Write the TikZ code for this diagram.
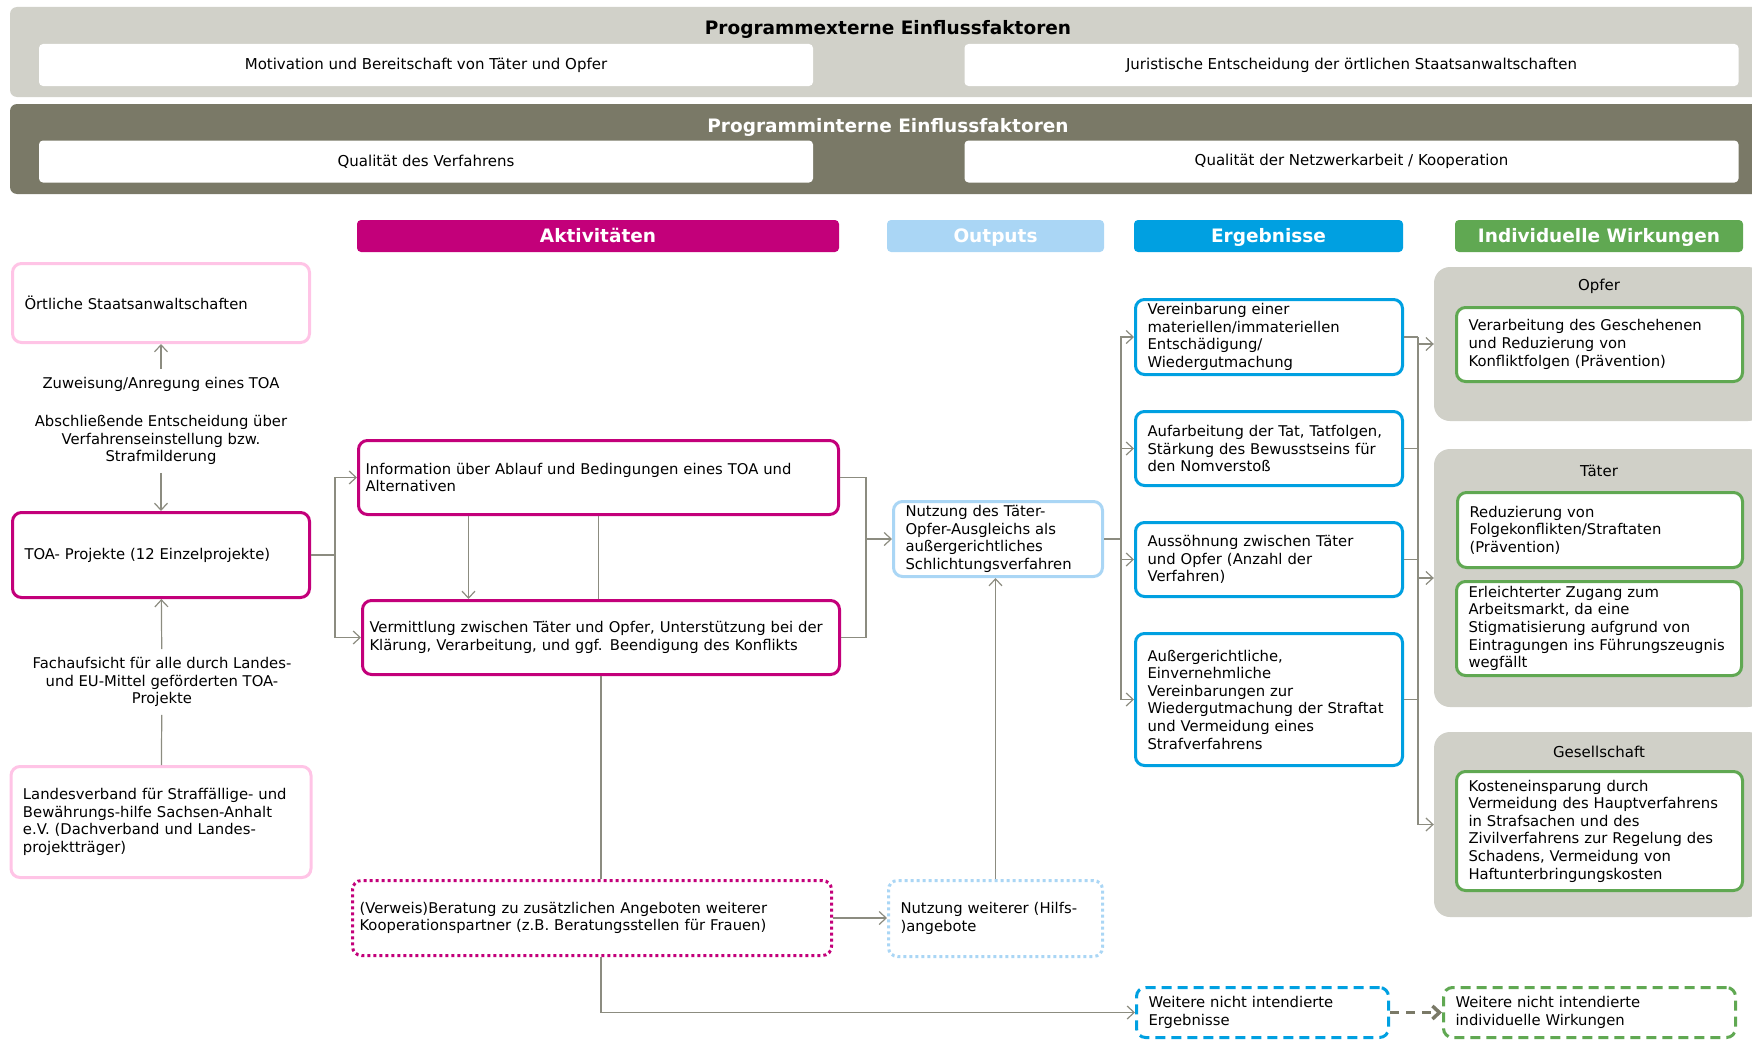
\documentclass[tikz,border=0pt]{standalone}
\usepackage{fontspec}
\setmainfont{DejaVu Sans}
\usetikzlibrary{arrows.meta}

\definecolor{bandlight}{RGB}{209,209,201}
\definecolor{banddark}{RGB}{122,121,103}
\definecolor{groupgray}{RGB}{208,208,200}
\definecolor{pinkline}{RGB}{255,196,230}
\definecolor{actmagenta}{RGB}{195,0,122}
\definecolor{outblue}{RGB}{170,214,245}
\definecolor{resblue}{RGB}{0,160,225}
\definecolor{effgreen}{RGB}{96,168,82}
\definecolor{conngray}{RGB}{140,140,128}
\definecolor{dashgray}{RGB}{122,121,103}

\begin{document}
\begin{tikzpicture}[x=1pt, y=-1pt,
	>={Straight Barb[length=7pt,width=13pt]},
	every node/.style={font=\fontsize{14.8}{17.6}\selectfont,
	                   inner sep=0pt
	                   },
	band/.style={rounded corners=7pt, minimum width=1756pt, minimum height=90pt},
	bandtitle/.style={font=\fontsize{18.5}{22}\selectfont\bfseries,
	                  text height=13.5pt, text depth=1pt},
	factor/.style={fill=white, rounded corners=4pt,
	               minimum width=774pt, minimum height=42pt,
	               font=\fontsize{15}{18}\selectfont},
	head/.style={rounded corners=4pt, minimum height=32pt, text=white,
	             text height=13.5pt, text depth=1pt,
	             font=\fontsize{18.5}{22}\selectfont\bfseries},
	group/.style={fill=groupgray, rounded corners=16pt, minimum width=330pt},
	grouptitle/.style={font=\fontsize{15}{18}\selectfont},
	box/.style={draw, rounded corners=9pt, line width=3pt, fill=white,
	            align=left, inner xsep=12pt, inner ysep=3pt},
	actor/.style={box, draw=pinkline},
	act/.style={box, draw=actmagenta, inner xsep=7pt},
	actdot/.style={act, dash pattern=on 3pt off 3pt},
	outp/.style={box, draw=outblue},
	outdot/.style={outp, dash pattern=on 3pt off 3pt},
	res/.style={box, draw=resblue},
	resdash/.style={res, dash pattern=on 10pt off 6pt},
	eff/.style={box, draw=effgreen},
	effdash/.style={eff, dash pattern=on 10pt off 6pt},
	lbl/.style={align=center, inner sep=8pt},
	conn/.style={draw=conngray, line width=1.2pt},
	dasharrow/.style={draw=dashgray, line width=3.5pt, dash pattern=on 9pt off 7pt, ->}
]
	\useasboundingbox (0,0) rectangle (1752,1041);

	% influence factors
	\node (extern) [band, fill=bandlight] at (888,52) {};
	\node (externtitle) [bandtitle] at (888,28) {Programmexterne Einflussfaktoren};
	\node (motivation) [factor] at (426,65) {Motivation und Bereitschaft von Täter und Opfer};
	\node (juristisch) [factor] at (1351.5,65) {Juristische Entscheidung der örtlichen Staatsanwaltschaften};
	\node (intern) [band, fill=banddark] at (888,149) {};
	\node (interntitle) [bandtitle, text=white] at (888,126) {Programminterne Einflussfaktoren};
	\node (verfahren) [factor] at (426,161.5) {Qualität des Verfahrens};
	\node (netzwerk) [factor] at (1351.5,161.5) {Qualität der Netzwerkarbeit / Kooperation};

	% column heads
	\node (hakt) [head, fill=actmagenta, minimum width=482pt] at (598,236) {Aktivitäten};
	\node (hout) [head, fill=outblue, minimum width=217pt] at (995.5,236) {Outputs};
	\node (herg) [head, fill=resblue, minimum width=269pt] at (1268.5,236) {Ergebnisse};
	\node (hwirk) [head, fill=effgreen, minimum width=288pt] at (1599,236) {Individuelle Wirkungen};

	% groups of effects
	\node (gopfer) [group, minimum height=154pt] at (1599,344) {};
	\node (gtaeter) [group, minimum height=258pt] at (1599,578) {};
	\node (gges) [group, minimum height=185pt] at (1599,824.5) {};
	\node (topfer) [grouptitle] at (1599,286) {Opfer};
	\node (ttaeter) [grouptitle] at (1599,471) {Täter};
	\node (tges) [grouptitle] at (1599,752) {Gesellschaft};

	% actors
	\node (oertl) [actor, text width=273pt, minimum height=79pt] at (161,303) {Örtliche Staatsanwaltschaften};
	\node (zuw) [lbl] at (161,384) {Zuweisung/Anregung eines TOA};
	\node (absch) [lbl] at (161,440) {Abschließende Entscheidung über\\Verfahrenseinstellung bzw.\\Strafmilderung};
	\node (toa) [act, inner xsep=12pt, text width=273pt, minimum height=85pt] at (161,555) {TOA- Projekte (12 Einzelprojekte)};
	\node (fach) [lbl] at (162,682) {Fachaufsicht für alle durch Landes-\\und EU-Mittel geförderten TOA-\\Projekte};
	\node (lv) [actor, text width=276pt, minimum height=111pt] at (161,822) {Landesverband für Straffällige- und\\Bewährungs-hilfe Sachsen-Anhalt\\e.V. (Dachverband und Landes-\\projektträger)};

	% activities
	\node (info) [act, text width=466pt, minimum height=74pt] at (598.5,477.5) {Information über Ablauf und Bedingungen eines TOA und\\Alternativen};
	\node (verm) [act, text width=463pt, minimum height=74pt] at (601,637.5) {Vermittlung zwischen Täter und Opfer, Unterstützung bei der\\Klärung, Verarbeitung, und ggf. Beendigung des Konflikts};
	\node (verweis) [actdot, text width=465pt, minimum height=75pt] at (592,918) {(Verweis)Beratung zu zusätzlichen Angeboten weiterer\\Kooperationspartner (z.B. Beratungsstellen für Frauen)};

	% outputs
	\node (nutz) [outp, text width=185pt, minimum height=75pt] at (998,539) {Nutzung des Täter-\\Opfer-Ausgleichs als\\außergerichtliches\\Schlichtungsverfahren};
	\node (nutzw) [outdot, text width=190pt, minimum height=76pt] at (995.5,918.5) {Nutzung weiterer (Hilfs-\\)angebote};

	% results
	\node (erg1) [res, text width=243pt, minimum height=75pt] at (1269,337) {Vereinbarung einer\\materiellen/immateriellen\\Entschädigung/\\Wiedergutmachung};
	\node (erg2) [res, text width=243pt, minimum height=74pt] at (1269,448.5) {Aufarbeitung der Tat, Tatfolgen,\\Stärkung des Bewusstseins für\\den Nomverstoß};
	\node (erg3) [res, text width=243pt, minimum height=74pt] at (1269,559.5) {Aussöhnung zwischen Täter\\und Opfer (Anzahl der\\Verfahren)};
	\node (erg4) [res, text width=243pt, minimum height=132pt] at (1269,699.5) {Außergerichtliche,\\Einvernehmliche\\Vereinbarungen zur\\Wiedergutmachung der Straftat\\und Vermeidung eines\\Strafverfahrens};
	\node (wergeb) [resdash, text width=228pt, minimum height=50pt] at (1262.5,1012.5) {Weitere nicht intendierte\\Ergebnisse};

	% effects
	\node (effopfer) [eff, text width=262pt, minimum height=74pt] at (1599.5,344.5) {Verarbeitung des Geschehenen\\und Reduzierung von\\Konfliktfolgen (Prävention)};
	\node (efftaeter1) [eff, text width=261pt, minimum height=75pt] at (1600,530) {Reduzierung von\\Folgekonflikten/Straftaten\\(Prävention)};
	\node (efftaeter2) [eff, text width=261pt, minimum height=94pt] at (1599,628.5) {Erleichterter Zugang zum\\Arbeitsmarkt, da eine\\Stigmatisierung aufgrund von\\Eintragungen ins Führungszeugnis\\wegfällt};
	\node (effges) [eff, text width=262pt, minimum height=119pt] at (1599.5,831) {Kosteneinsparung durch\\Vermeidung des Hauptverfahrens\\in Strafsachen und des\\Zivilverfahrens zur Regelung des\\Schadens, Vermeidung von\\Haftunterbringungskosten};
	\node (wwirk) [effdash, text width=268pt, minimum height=50pt] at (1589.5,1012.5) {Weitere nicht intendierte\\individuelle Wirkungen};

	% connectors, left column
	\draw[conn,->] (zuw) -- (oertl);
	\draw[conn,->] (absch) -- (toa);
	\draw[conn] (lv) -- (fach);
	\draw[conn,->] (fach) -- (toa);

	% connectors, activities
	\coordinate (fork1) at (335,555);
	\draw[conn] (toa) -- (fork1);
	\draw[conn,->] (fork1) |- (info);
	\draw[conn,->] (fork1) |- (verm);
	\draw[conn,->] ([xshift=-130pt]info.south) -- ([xshift=-130pt]info.south |- verm.north);
	\draw[conn] (info.south) -- (info.south |- verm.north);
	\draw[conn] (verm.south) -- (verm.south |- verweis.north);
	\draw[conn,->] (verm.south |- verweis.south) |- (wergeb);
	\draw[conn,->] (verweis.east) -- (verweis.east -| nutzw.west);

	% connectors, outputs
	\coordinate (fork2) at (866,539);
	\draw[conn] (info) -| (fork2);
	\draw[conn] (verm) -| (fork2);
	\draw[conn,->] (fork2) -- (nutz);
	\draw[conn,->] (nutzw.north) -- (nutzw.north |- nutz.south);

	% connectors, results
	\coordinate (fork3) at (1121,539);
	\draw[conn] (nutz) -- (fork3);
	\foreach \r in {erg1,erg2,erg3,erg4}
		\draw[conn,->] (fork3) |- (\r);

	% connectors, effects
	\coordinate (bus) at (1418,337);
	\foreach \r in {erg1,erg2,erg3,erg4}
		\draw[conn] (\r) -- (\r -| bus);
	\draw[conn] (bus) -- (bus |- gges);
	\foreach \g in {gopfer,gtaeter,gges}
		\draw[conn,->] (\g -| bus) -- (\g);
	\draw[dasharrow] (wergeb) -- (wwirk);
\end{tikzpicture}
\end{document}
